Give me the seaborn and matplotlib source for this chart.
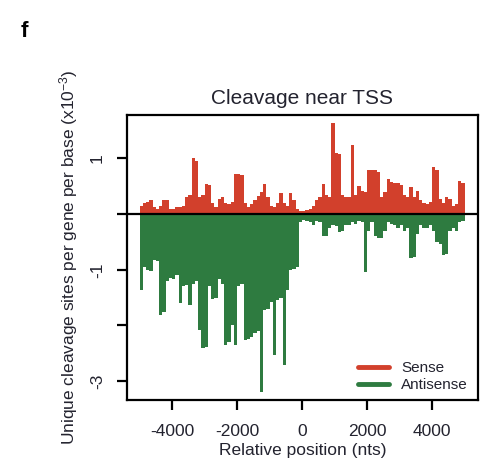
import numpy as np
import matplotlib
matplotlib.use("Agg")
import matplotlib.pyplot as plt
from matplotlib.lines import Line2D
import seaborn as sns

# ---- data (bins of 100 nt from -5000 to +5000) ----
bin_start = -5000
bin_size = 100
sense = [0.15, 0.2, 0.22, 0.25, 0.12, 0.1, 0.15, 0.25, 0.25, 0.1,
         0.1, 0.12, 0.12, 0.15, 0.3, 0.35, 1.0, 0.95, 0.3, 0.35,
         0.54, 0.52, 0.2, 0.12, 0.28, 0.3, 0.2, 0.18, 0.22, 0.72,
         0.72, 0.7, 0.2, 0.12, 0.18, 0.25, 0.32, 0.4, 0.54, 0.3,
         0.15, 0.12, 0.2, 0.38, 0.2, 0.15, 0.38, 0.25, 0.1, 0.06,
         0.06, 0.08, 0.1, 0.15, 0.25, 0.3, 0.54, 0.35, 0.3, 1.63,
         1.1, 1.08, 0.35, 0.3, 0.3, 1.25, 0.35, 0.5, 0.42, 0.4,
         0.79, 0.8, 0.79, 0.75, 0.3, 0.4, 0.63, 0.58, 0.56, 0.55,
         0.53, 0.35, 0.3, 0.48, 0.3, 0.42, 0.25, 0.2, 0.18, 0.22,
         0.85, 0.8, 0.28, 0.2, 0.3, 0.28, 0.15, 0.18, 0.6, 0.55]
antisense = [-1.36, -0.95, -1.0, -1.03, -0.82, -0.85, -1.81, -1.75, -1.2, -1.15,
             -1.17, -1.1, -1.6, -1.3, -1.28, -1.64, -1.25, -1.2, -2.08, -2.41,
             -2.38, -1.3, -1.53, -1.5, -1.17, -1.25, -2.35, -2.3, -2.0, -2.35,
             -1.3, -1.25, -2.26, -2.25, -2.2, -2.14, -2.1, -3.19, -1.72, -1.7,
             -1.58, -2.53, -1.55, -1.5, -2.71, -1.36, -1.0, -0.98, -0.95, -0.14,
             -0.1, -0.12, -0.15, -0.2, -0.12, -0.15, -0.4, -0.4, -0.25, -0.2,
             -0.22, -0.33, -0.3, -0.2, -0.2, -0.15, -0.18, -0.12, -0.15, -1.04,
             -0.3, -0.15, -0.4, -0.43, -0.43, -0.3, -0.15, -0.18, -0.2, -0.25,
             -0.2, -0.3, -0.25, -0.79, -0.77, -0.35, -0.2, -0.25, -0.25, -0.2,
             -0.3, -0.5, -0.53, -0.74, -0.71, -0.3, -0.25, -0.3, -0.15, -0.12]
positions = bin_start + bin_size / 2 + bin_size * np.arange(len(sense))

xticks = [-4000, -2000, 0, 2000, 4000]
xticklabels = ["-4000", "-2000", "0", "2000", "4000"]
yticks = [1, 0, -1, -2, -3]
yticklabels = ["1", "", "-1", "", "-3"]
series_names = ["Sense", "Antisense"]

red = "#d2402c"
green = "#2e7b40"
txt = "#23232f"

sns.set_style("ticks")
plt.rcParams['font.family'] = ['Liberation Sans', 'DejaVu Sans']
plt.rcParams['mathtext.fontset'] = 'custom'
plt.rcParams['mathtext.rm'] = 'Liberation Sans'
plt.rcParams['mathtext.it'] = 'Liberation Sans'

fig = plt.figure(figsize=(4.82, 4.63), dpi=100)
ax = fig.add_axes([0.2635, 0.136, 0.728, 0.6156])

sns.barplot(x=positions, y=sense, native_scale=True, color=red, width=1.0,
            linewidth=0, errorbar=None, saturation=1, ax=ax)
sns.barplot(x=positions, y=antisense, native_scale=True, color=green, width=1.0,
            linewidth=0, errorbar=None, saturation=1, ax=ax)
ax.axhline(0, color="black", lw=1.6, zorder=5)

ax.set_xlim(-5390, 5410)
ax.set_ylim(-3.34, 1.78)
ax.set_xticks(xticks)
ax.set_xticklabels(xticklabels)
ax.set_yticks(yticks)
ax.set_yticklabels(yticklabels, rotation=90, va="center")

for s in ax.spines.values():
    s.set_visible(True)
    s.set_linewidth(1.6)
    s.set_color("black")
ax.tick_params(axis="both", direction="out", length=7, width=1.6,
               labelsize=12.5, colors="black", labelcolor=txt)
ax.tick_params(axis="x", pad=10)
ax.tick_params(axis="y", pad=9)

ax.set_xlabel("Relative position (nts)", fontsize=12.5, color=txt, labelpad=3)
ax.set_ylabel("Unique cleavage sites per gene per base (x10$^{-3}$)",
              fontsize=12.5, color=txt, labelpad=7)
ax.set_title("Cleavage near TSS", fontsize=15, color=txt, pad=8)

handles = [Line2D([0], [0], color=red, lw=3.5),
           Line2D([0], [0], color=green, lw=3.5)]
ax.legend(handles, series_names, loc="lower right", frameon=False,
          fontsize=11, handlelength=2.0, handletextpad=0.8,
          labelspacing=0.2, bbox_to_anchor=(1.01, -0.02), labelcolor=txt)

fig.text(0.042, 0.92, "f", fontsize=16, fontweight="bold", color="black")

fig.savefig("out.png", dpi=100)
